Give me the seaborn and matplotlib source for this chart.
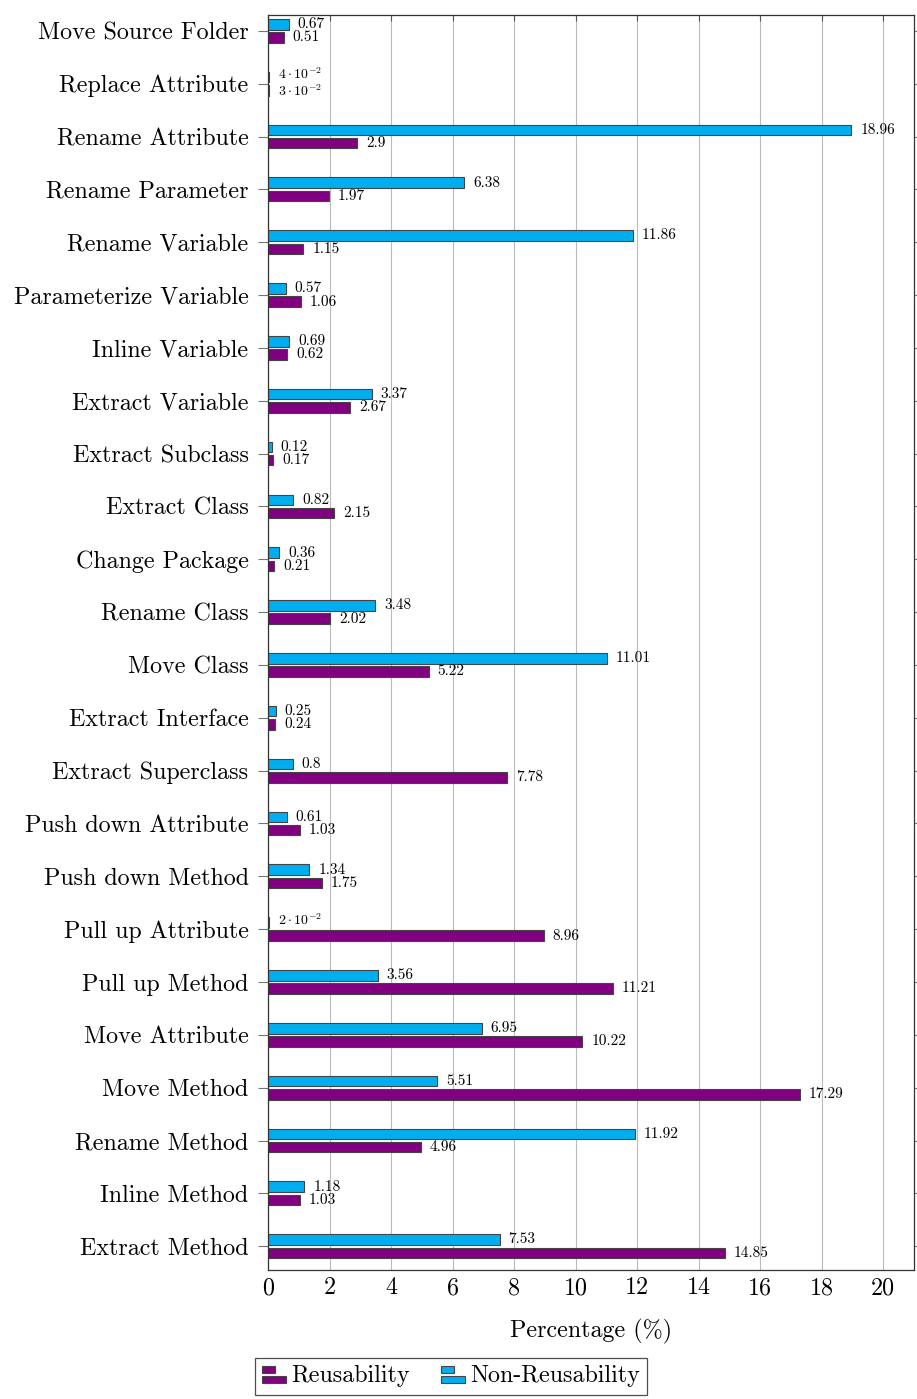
import matplotlib
matplotlib.use("Agg")
import matplotlib.pyplot as plt
from matplotlib.legend_handler import HandlerBase
from matplotlib.patches import Rectangle
import pandas as pd
import seaborn as sns

categories = [
    "Move Source Folder", "Replace Attribute", "Rename Attribute", "Rename Parameter",
    "Rename Variable", "Parameterize Variable", "Inline Variable", "Extract Variable",
    "Extract Subclass", "Extract Class", "Change Package", "Rename Class",
    "Move Class", "Extract Interface", "Extract Superclass", "Push down Attribute",
    "Push down Method", "Pull up Attribute", "Pull up Method", "Move Attribute",
    "Move Method", "Rename Method", "Inline Method", "Extract Method",
]
non_reusability = [0.67, 0.04, 18.96, 6.38, 11.86, 0.57, 0.69, 3.37, 0.12, 0.82, 0.36, 3.48,
                   11.01, 0.25, 0.8, 0.61, 1.34, 0.02, 3.56, 6.95, 5.51, 11.92, 1.18, 7.53]
reusability = [0.51, 0.03, 2.9, 1.97, 1.15, 1.06, 0.62, 2.67, 0.17, 2.15, 0.21, 2.02,
               5.22, 0.24, 7.78, 1.03, 1.75, 8.96, 11.21, 10.22, 17.29, 4.96, 1.03, 14.85]
xticks = list(range(0, 21, 2))

CYAN = "#00AEEF"
PURPLE = "#800080"

df = pd.DataFrame({
    "Refactoring": categories * 2,
    "Group": ["Non-Reusability"] * len(categories) + ["Reusability"] * len(categories),
    "Percentage": non_reusability + reusability,
})

sns.set_style("white")
plt.rcParams["font.family"] = ["cmr10", "DejaVu Serif"]
plt.rcParams["mathtext.fontset"] = "cm"
plt.rcParams["axes.formatter.use_mathtext"] = True
plt.rcParams["axes.unicode_minus"] = False
plt.rcParams["text.color"] = "black"
plt.rcParams["xtick.color"] = "black"
plt.rcParams["ytick.color"] = "black"
plt.rcParams["axes.labelcolor"] = "black"

fig = plt.figure(figsize=(9.17, 13.99), dpi=100)
ax = fig.add_axes([268 / 917, 1 - 1270 / 1399, (914 - 268) / 917, (1270 - 15) / 1399])

sns.barplot(data=df, y="Refactoring", x="Percentage", hue="Group",
            hue_order=["Non-Reusability", "Reusability"],
            palette={"Non-Reusability": CYAN, "Reusability": PURPLE},
            order=categories, orient="h", width=0.5, gap=0.2, saturation=1,
            edgecolor="#444444", linewidth=0.8, ax=ax, legend=False)


def fmt(v):
    if v < 0.1:
        mant = int(round(v * 100))
        return r"$%d\cdot10^{-2}$" % mant
    return f"{v:g}"


# value labels next to each bar; tiny values get the pgfplots-style sci notation
for k, cont in enumerate(ax.containers):
    for bar in cont:
        w = bar.get_width()
        small = w < 0.1
        dy = (2.0 if k == 0 else -1.0) if small else 0
        ax.annotate(fmt(w), (w, bar.get_y() + bar.get_height() / 2),
                    xytext=(6.5, dy), textcoords="offset points",
                    va="center", ha="left", fontsize=10 if small else 11)

ax.set_xlim(0, 21)
ax.set_ylim(len(categories) - 0.55, -0.3)
ax.set_xticks(xticks)
ax.set_xticklabels([str(t) for t in xticks])
ax.grid(axis="x", color="#bbbbbb", linewidth=0.8)
ax.set_axisbelow(True)
for s in ax.spines.values():
    s.set_color("#333333")
    s.set_linewidth(0.9)
ax.tick_params(axis="y", which="both", left=True, right=True, direction="out",
               length=7, color="#777777", labelsize=17.3, pad=7)
ax.tick_params(axis="x", bottom=False, top=True, direction="in", length=4,
               color="#555555", labelsize=17.3, pad=5)
ax.set_ylabel("")
ax.set_xlabel("Percentage (%)", fontsize=17.3, labelpad=14)


class TwoBarHandler(HandlerBase):
    def __init__(self, color):
        super().__init__()
        self.color = color

    def create_artists(self, legend, orig_handle, xdescent, ydescent, width, height, fontsize, trans):
        h = height * 0.42
        top = Rectangle((-xdescent, -ydescent + height * 0.56), width * 0.55, h,
                        facecolor=self.color, edgecolor="#444444", linewidth=0.8, transform=trans)
        bot = Rectangle((-xdescent, -ydescent - height * 0.02), width, h,
                        facecolor=self.color, edgecolor="#444444", linewidth=0.8, transform=trans)
        return [top, bot]


h_r = Rectangle((0, 0), 1, 1)
h_n = Rectangle((0, 0), 1, 1)
leg = fig.legend([h_r, h_n], ["Reusability", "Non-Reusability"],
                 handler_map={h_r: TwoBarHandler(PURPLE), h_n: TwoBarHandler(CYAN)},
                 loc="upper left", bbox_to_anchor=(255 / 917, 1 - 1358 / 1399),
                 borderaxespad=0, ncol=2, fontsize=17.3, frameon=True, fancybox=False,
                 handlelength=1.0, handletextpad=0.2, columnspacing=1.3,
                 borderpad=0.3, edgecolor="#222222")
leg.get_frame().set_linewidth(0.9)

fig.savefig("out.png", dpi=100)
